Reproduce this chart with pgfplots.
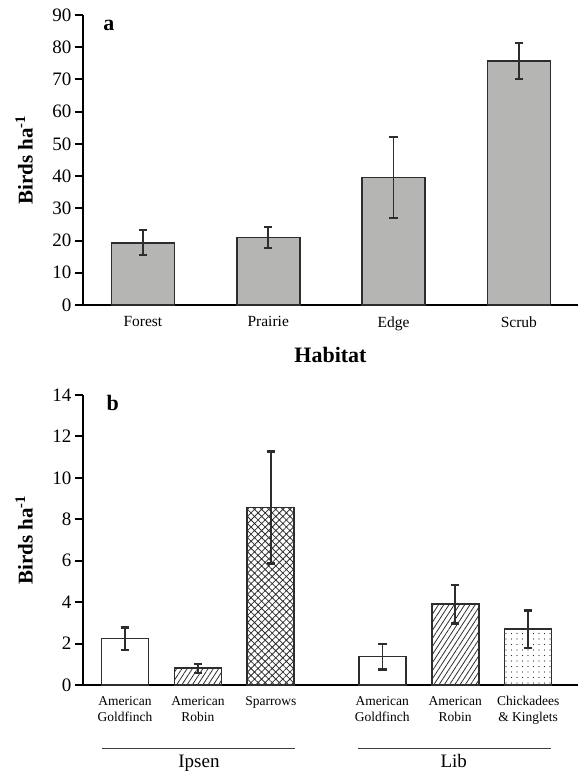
\documentclass[border=0pt]{standalone}
\usepackage{fontspec}
\setmainfont{Liberation Serif}
\usepackage{pgfplots}
\pgfplotsset{compat=1.18}
\usetikzlibrary{patterns.meta}
\definecolor{barfill}{RGB}{181,182,180}
\definecolor{edge}{RGB}{45,45,45}
\pgfplotsset{
  common/.style={
    scale only axis, width=495pt, height=290pt, anchor=south west,
    axis x line=bottom, axis y line=left,
    axis line style={-, line width=2.2pt, black},
    tick align=outside, major tick length=8pt,
    ytick style={line width=2pt, black},
    xtick style={draw=none},
    /pgf/number format/assume math mode=true,
    yticklabel style={font=\fontsize{19}{19}\selectfont},
    ylabel={Birds ha\textsuperscript{-1}},
    ylabel style={font=\bfseries\fontsize{21}{21}\selectfont, at={(axis description cs:-0.119,0.5)}, anchor=center},
    ymin=0, clip=false, ybar,
    error bars/y dir=both, error bars/y explicit,
    error bars/error bar style={line width=1.6pt, edge},
    error bars/error mark options={rotate=90, mark size=4.25pt, line width=2.4pt, edge},
  }
}
\begin{document}
\begin{tikzpicture}[x=1pt,y=1pt]
\useasboundingbox (0,0) rectangle (578,771);
% Panel a
\begin{axis}[common, at={(83pt,466pt)},
  xmin=-0.478, xmax=3.472, ymax=90, ytick={0,10,...,90},
  xtick={0,1,2,3}, xticklabels={Forest,Prairie,Edge,Scrub},
  xticklabel style={font=\fontsize{15.5}{15.5}\selectfont},
  xlabel={Habitat},
  xlabel style={font=\bfseries\fontsize{22}{22}\selectfont, at={(axis description cs:0.5,-0.1966)}, anchor=base},
  bar width=63pt]
\addplot[bar shift=0pt, fill=barfill, draw=edge, line width=1.6pt]
  table[x=x, y=y, y error plus=ep, y error minus=em] {
x y ep em
0 19.3 3.9 3.8
1 21.0 3.2 3.3
2 39.6 12.6 12.6
3 75.7 5.7 5.6
};
\node[font=\bfseries\fontsize{22}{22}\selectfont, anchor=base west] at (axis description cs:0.034,0.946) {a};
\end{axis}
% Panel b
\begin{axis}[common, at={(83pt,86pt)},
  xmin=-0.576, xmax=6.214, ymax=14, ytick={0,2,...,14},
  xtick={0,1,2,3.53,4.53,5.53},
  xticklabels={{American\\Goldfinch},{American\\Robin},{Sparrows},{American\\Goldfinch},{American\\Robin},{Chickadees\\\& Kinglets}},
  xticklabel style={align=center, font=\fontsize{13.5}{16}\selectfont},
  bar width=47pt]
\addplot[bar shift=0pt, fill=white, draw=edge, line width=1.6pt]
  table[x=x, y=y, y error plus=ep, y error minus=em] {
x y ep em
0 2.25 0.52 0.56
3.53 1.37 0.61 0.63
};
\addplot[bar shift=0pt, draw=edge, line width=1.6pt, pattern={Lines[angle=57,distance=4.4pt,line width=0.8pt]}, pattern color=edge]
  table[x=x, y=y, y error plus=ep, y error minus=em] {
x y ep em
1 0.81 0.20 0.22
4.53 3.90 0.93 0.94
};
\addplot[bar shift=0pt, draw=edge, line width=1.6pt, pattern={Hatch[angle=45,distance=5pt,line width=0.8pt]}, pattern color=edge]
  table[x=x, y=y, y error plus=ep, y error minus=em] {
x y ep em
2 8.56 2.71 2.70
};
\addplot[bar shift=0pt, draw=edge, line width=1.6pt, pattern={Dots[distance=5.5pt,radius=0.55pt]}, pattern color=edge]
  table[x=x, y=y, y error plus=ep, y error minus=em] {
x y ep em
5.53 2.69 0.90 0.89
};
\node[font=\bfseries\fontsize{22}{22}\selectfont, anchor=base west] at (axis description cs:0.0404,0.945) {b};
\draw[line width=1.2pt, black!75] ([yshift=-63.3pt]axis cs:-0.309,0) -- ([yshift=-63.3pt]axis cs:2.331,0);
\draw[line width=1.2pt, black!75] ([yshift=-63.3pt]axis cs:3.200,0) -- ([yshift=-63.3pt]axis cs:5.844,0);
\node[font=\fontsize{19}{19}\selectfont, anchor=base] at ([yshift=-82.5pt]axis cs:1.015,0) {Ipsen};
\node[font=\fontsize{19}{19}\selectfont, anchor=base] at ([yshift=-82.5pt]axis cs:4.51,0) {Lib};
\end{axis}
\end{tikzpicture}
\end{document}
